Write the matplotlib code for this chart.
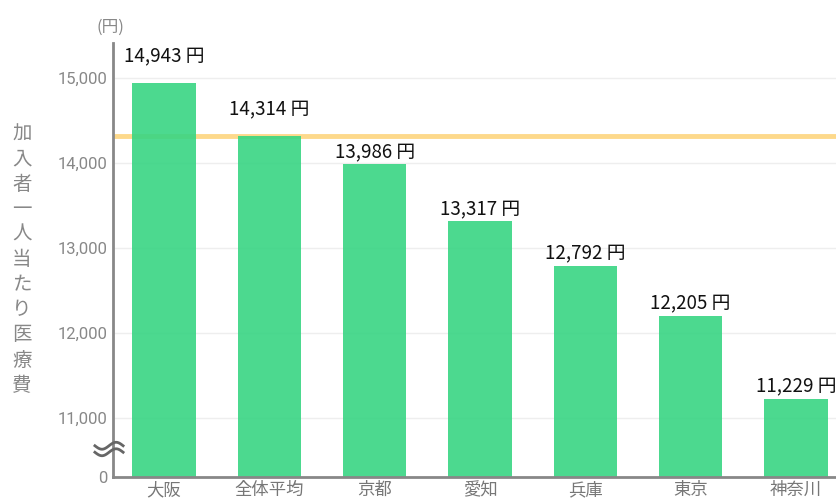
import numpy as np
import matplotlib
matplotlib.use("Agg")
import matplotlib.pyplot as plt

plt.rcParams['font.family'] = ['Noto Sans CJK JP', 'DejaVu Sans']

# data
regions = ["大阪", "全体平均", "京都", "愛知", "兵庫", "東京", "神奈川"]
costs = [14943, 14314, 13986, 13317, 12792, 12205, 11229]
average = 14314
y_ticks = [11000, 12000, 13000, 14000, 15000]
y_label = "加入者一人当たり医療費"
unit = "(円)"

# style
bar_color = "#38d583"
line_color = "#fdd98b"
gray = "#888888"
label_offsets = [15, 15, 4.5, 4.5, 4.5, 4.5, 4.5]  # points above bar top
y_bottom = 10306  # where the broken axis "0" sits
y_top = 15412

fig = plt.figure(figsize=(8.36, 4.98), dpi=100)
ax = fig.add_axes([113 / 836, 21 / 498, 1 - 113 / 836, (477 - 43) / 498])

x = np.arange(len(regions))
ax.axhline(average, color=line_color, lw=3.5, zorder=1)
ax.bar(x, [c - y_bottom for c in costs], bottom=y_bottom, width=0.6,
       color=bar_color, alpha=0.9, zorder=2)

for xi, c, off in zip(x, costs, label_offsets):
    ax.annotate(f"{c:,} 円", (xi, c), xytext=(0, off), textcoords="offset points",
                ha="center", va="baseline", fontsize=13.5, color="#111111")

ax.set_xlim(-0.485, 6.38)
ax.set_ylim(y_bottom, y_top)
for yt in y_ticks:
    ax.axhline(yt, color="#eeeeee", lw=1, zorder=0)

ax.set_yticks([y_bottom] + y_ticks)
ax.set_yticklabels(["0"] + [f"{v:,}" for v in y_ticks], family="Roboto",
                   fontsize=12, color=gray)
ax.set_xticks(x)
ax.set_xticklabels(regions, fontsize=12.5, color="#777777")
ax.tick_params(axis="both", length=0)
ax.tick_params(axis="y", pad=4)
ax.tick_params(axis="x", pad=3)

for side in ("top", "right"):
    ax.spines[side].set_visible(False)
for side in ("left", "bottom"):
    ax.spines[side].set_color(gray)
    ax.spines[side].set_linewidth(2)

# axis break squiggle
t = np.linspace(0, 1, 40)
xs = -0.025 + 0.039 * t
for y0 in (0.072, 0.057):
    ax.plot(xs, y0 + 0.008 * np.sin(2 * np.pi * t + np.pi), color="#666666",
            lw=2, transform=ax.transAxes, clip_on=False, zorder=5)

fig.text(22 / 836, 1 - 259.5 / 498, "\n".join(y_label), ha="center", va="center",
         fontsize=14, color=gray, linespacing=1.26)
fig.text(110 / 836, 1 - 27 / 498, unit, ha="center", va="center",
         fontsize=12, color=gray)

fig.savefig("out.png", dpi=100)
